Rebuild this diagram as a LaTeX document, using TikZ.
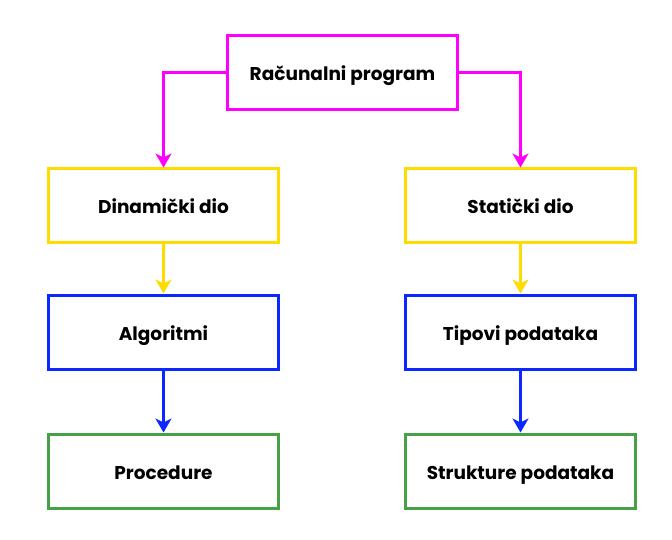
\documentclass[tikz,border=0pt]{standalone}
\usepackage{fontspec}
\setmainfont{Poppins}
\usetikzlibrary{arrows.meta}
\definecolor{cmag}{HTML}{FF00FF}
\definecolor{cyel}{HTML}{FFDC00}
\definecolor{cblu}{HTML}{0A28FF}
\definecolor{cgrn}{HTML}{46A046}
\begin{document}
\begin{tikzpicture}[x=1pt,y=-1pt,
  box/.style={draw,line width=3pt,minimum width=230pt,minimum height=74pt,inner sep=0pt,text height=17pt,text depth=1pt,font=\fontsize{18.5}{22}\selectfont\bfseries},
  conn/.style={line width=3pt,-{Stealth[length=14pt,width=16pt,inset=4pt]}}]
\useasboundingbox (0,0) rectangle (672,540);
\node[box,draw=cmag] (top) at (342.5,72.5) {Računalni program};
\node[box,draw=cyel] (dd) at (163.5,206) {Dinamički dio};
\node[box,draw=cyel] (sd) at (520.5,206) {Statički dio};
\node[box,draw=cblu] (al) at (163.5,332) {Algoritmi};
\node[box,draw=cblu] (tp) at (520.5,332) {Tipovi podataka};
\node[box,draw=cgrn] (pr) at (163.5,471) {Procedure};
\node[box,draw=cgrn] (sp) at (520.5,471) {Strukture podataka};
\draw[conn,cmag] (top.west) -| (dd.north);
\draw[conn,cmag] (top.east) -| (sd.north);
\draw[conn,cyel] (dd) -- (al);
\draw[conn,cyel] (sd) -- (tp);
\draw[conn,cblu] (al) -- (pr);
\draw[conn,cblu] (tp) -- (sp);
\end{tikzpicture}
\end{document}
